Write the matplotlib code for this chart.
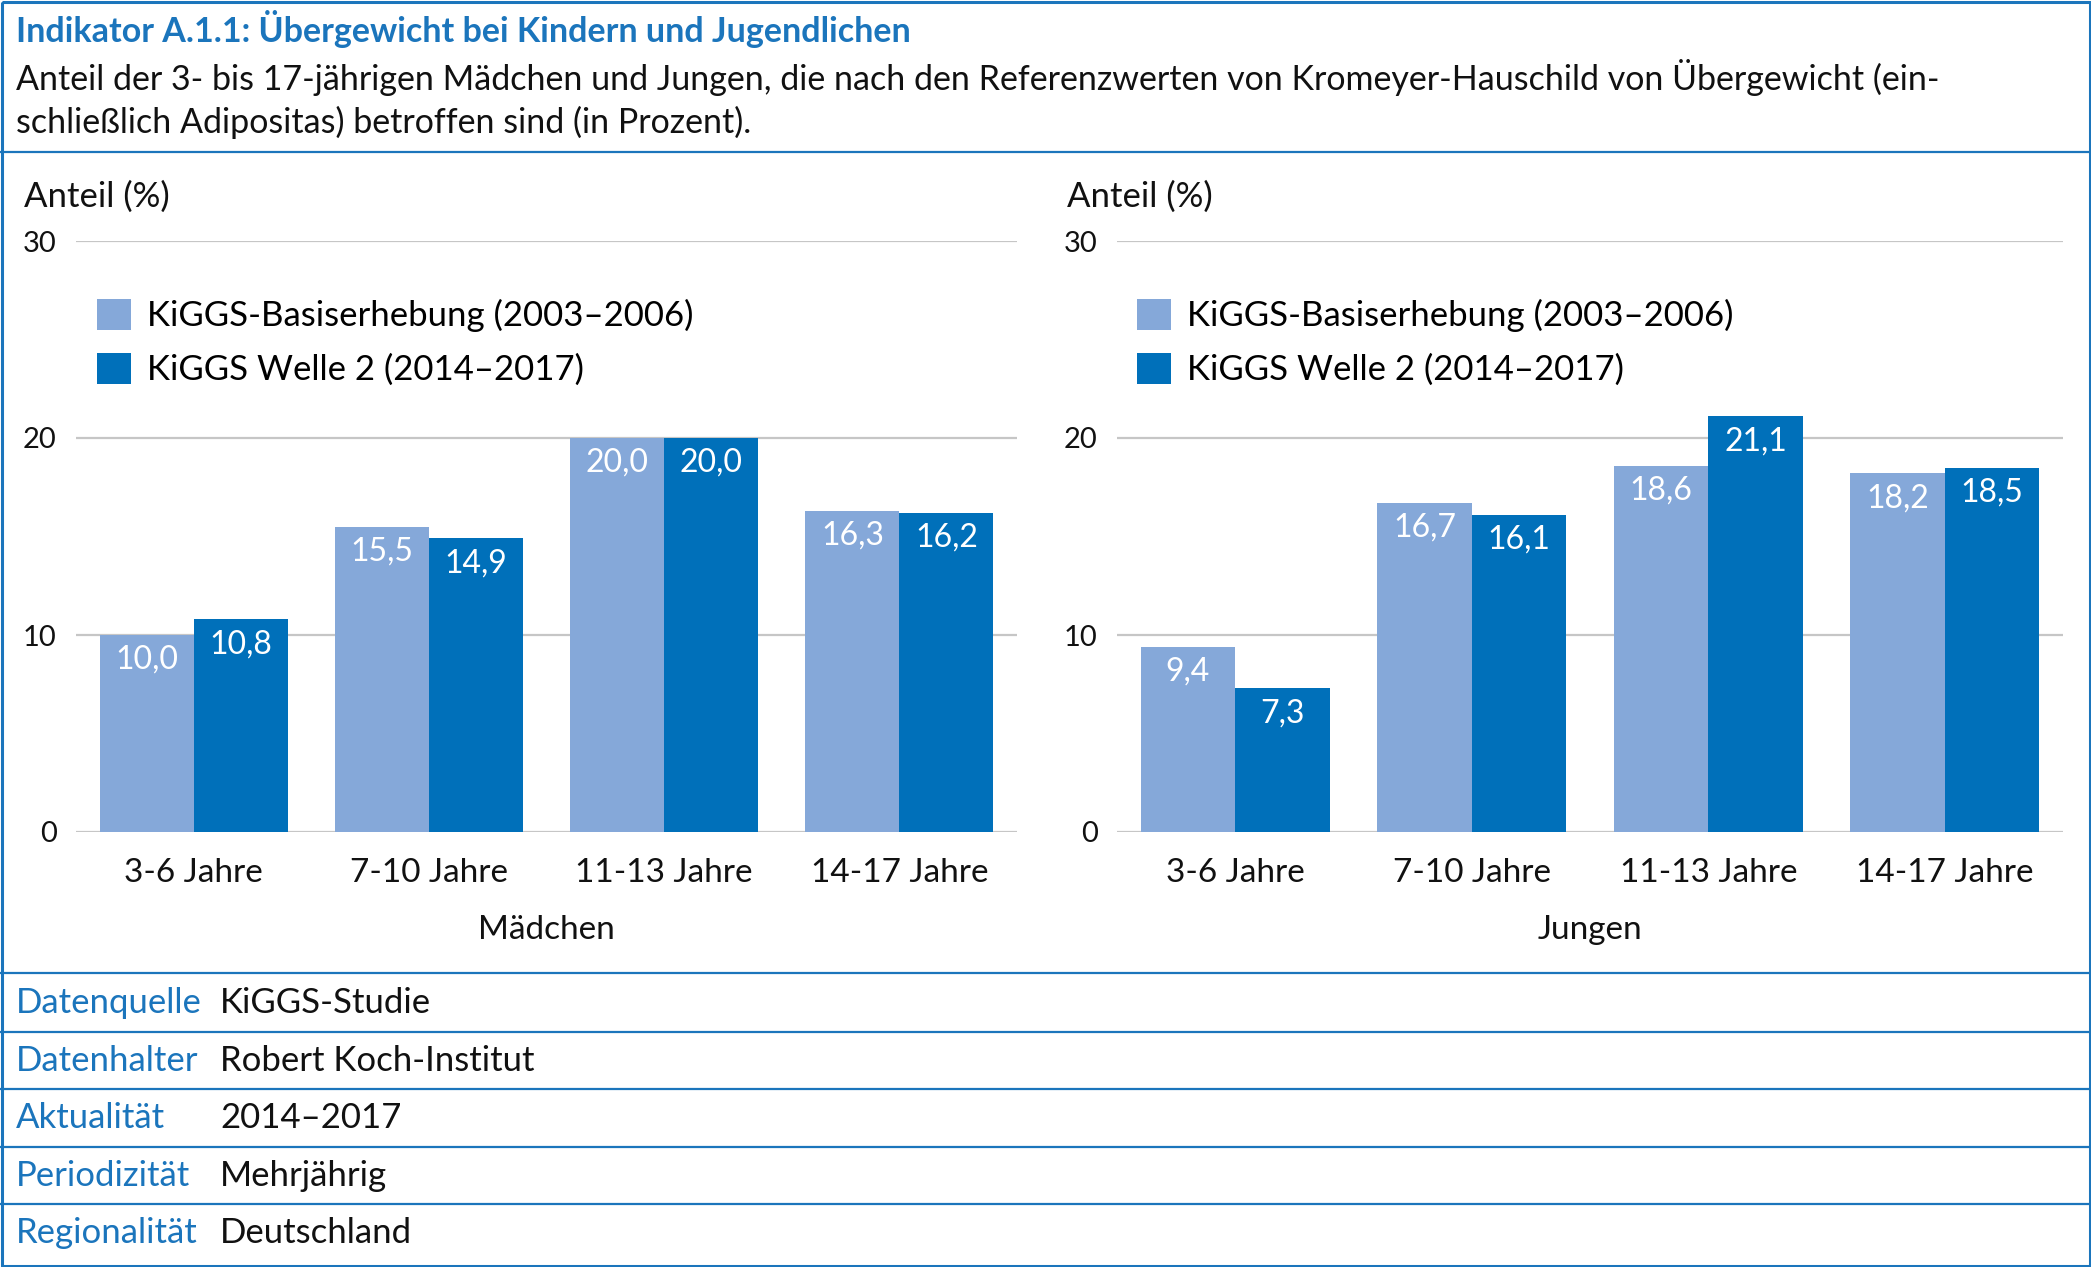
import matplotlib
matplotlib.use("Agg")
import matplotlib.pyplot as plt
import numpy as np

plt.rcParams['font.family'] = ['Lato', 'DejaVu Sans']

categories = ["3-6 Jahre", "7-10 Jahre", "11-13 Jahre", "14-17 Jahre"]
series_names = ["KiGGS-Basiserhebung (2003–2006)", "KiGGS Welle 2 (2014–2017)"]
maedchen_basis = [10.0, 15.5, 20.0, 16.3]
maedchen_welle2 = [10.8, 14.9, 20.0, 16.2]
jungen_basis = [9.4, 16.7, 18.6, 18.2]
jungen_welle2 = [7.3, 16.1, 21.1, 18.5]
yticks = [0, 10, 20, 30]
panel_titles = ["Mädchen", "Jungen"]

title = "Indikator A.1.1: Übergewicht bei Kindern und Jugendlichen"
subtitle1 = ("Anteil der 3- bis 17-jährigen Mädchen und Jungen, die nach den Referenzwerten "
             "von Kromeyer-Hauschild von Übergewicht (ein-")
subtitle2 = "schließlich Adipositas) betroffen sind (in Prozent)."
footer_labels = ["Datenquelle", "Datenhalter", "Aktualität", "Periodizität", "Regionalität"]
footer_values = ["KiGGS-Studie", "Robert Koch-Institut", "2014–2017", "Mehrjährig", "Deutschland"]

LIGHT = "#85A8D9"
DARK = "#0070BA"
BLUE = "#1B75BC"
GRID = "#C6C6C6"
TXT = "#111111"

W, H = 2091, 1267
fig = plt.figure(figsize=(W / 100, H / 100), dpi=100)

# overlay in pixel coordinates
ov = fig.add_axes([0, 0, 1, 1])
ov.set_xlim(0, W)
ov.set_ylim(H, 0)
ov.axis("off")

# border
ov.plot([1.5, W - 1.5, W - 1.5, 1.5, 1.5], [1.5, 1.5, H - 1.5, H - 1.5, 1.5], color=BLUE, lw=2.2,
        solid_capstyle='butt')
for y in [152, 973, 1032, 1089, 1147, 1204]:
    ov.plot([0, W], [y, y], color=BLUE, lw=1.6)

ov.text(16, 29, title, color=BLUE, fontsize=24.5, fontweight='bold', va='center', ha='left')
ov.text(16, 77, subtitle1, color=TXT, fontsize=24.5, va='center', ha='left')
ov.text(16, 122, subtitle2, color=TXT, fontsize=24.5, va='center', ha='left')

for i, (lab, val) in enumerate(zip(footer_labels, footer_values)):
    yc = [1003, 1061, 1118, 1176, 1233][i]
    ov.text(16, yc, lab, color=BLUE, fontsize=25, va='center', ha='left')
    ov.text(220, yc, val, color=TXT, fontsize=25, va='center', ha='left')


def px_axes(x0, x1, ytop, ybot):
    return fig.add_axes([x0 / W, 1 - ybot / H, (x1 - x0) / W, (ybot - ytop) / H])


panels = [
    (76, 1017, maedchen_basis, maedchen_welle2, 24, 97),
    (1117, 2063, jungen_basis, jungen_welle2, 1067, 1137),
]

for pi, (x0, x1, basis, welle, lab_x, leg_x) in enumerate(panels):
    ax = px_axes(x0, x1, 241, 832)
    x = np.arange(len(categories))
    w = 0.4
    b1 = ax.bar(x - w / 2, basis, width=w, color=LIGHT, zorder=3, label=series_names[0])
    b2 = ax.bar(x + w / 2, welle, width=w, color=DARK, zorder=3, label=series_names[1])
    for bars, vals in [(b1, basis), (b2, welle)]:
        for r, v in zip(bars, vals):
            ax.annotate(f"{v:.1f}".replace(".", ","), (r.get_x() + r.get_width() / 2, v),
                        xytext=(0, -18), textcoords='offset points', ha='center', va='center',
                        color='white', fontsize=23, zorder=4)
    ax.set_xlim(-0.5, len(categories) - 0.5)
    ax.set_ylim(0, 30)
    ax.set_yticks(yticks)
    ax.set_yticklabels([str(t) for t in yticks], fontsize=21, color=TXT)
    ax.set_xticks(x)
    ax.set_xticklabels(categories, fontsize=24, color=TXT)
    ax.tick_params(axis='both', length=0)
    ax.tick_params(axis='y', pad=14)
    ax.tick_params(axis='x', pad=19)
    ax.yaxis.grid(True, color=GRID, lw=1.6, zorder=0)
    ax.set_axisbelow(True)
    for s in ax.spines.values():
        s.set_visible(False)
    ax.set_xlabel(panel_titles[pi], fontsize=24, color=TXT, labelpad=19)
    ov.text(lab_x, 197, "Anteil (%)", fontsize=25, color=TXT, va='center', ha='left')
    ax.legend(loc='upper left', bbox_to_anchor=(leg_x / W, 1 - 299 / H), bbox_transform=fig.transFigure,
              frameon=False, fontsize=25, handlelength=0.98, handleheight=0.98,
              handletextpad=0.46, labelspacing=0.6, borderpad=0, borderaxespad=0)

fig.savefig("out.png", dpi=100)
